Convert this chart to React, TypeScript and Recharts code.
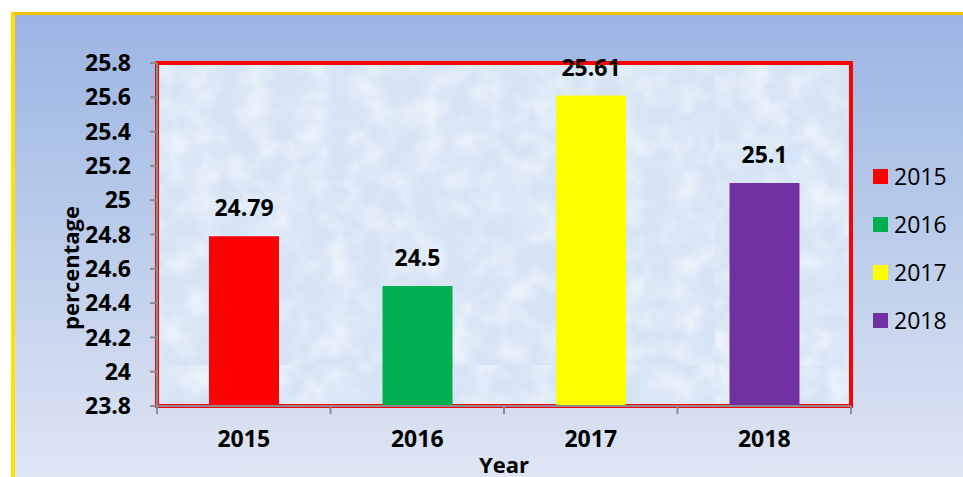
import { Bar, BarChart, CartesianGrid, Cell, Label, LabelList, ReferenceArea, XAxis, YAxis } from "recharts";

const years = ["2015", "2016", "2017", "2018"];
const percentages = [24.79, 24.5, 25.61, 25.1];
const barColors = ["#ff0000", "#00b050", "#ffff00", "#7030a0"];
const yTicks = [23.8, 24, 24.2, 24.4, 24.6, 24.8, 25, 25.2, 25.4, 25.6, 25.8];

const data = years.map((year, i) => ({ year, value: percentages[i] }));

const FONT = "'Open Sans', 'DejaVu Sans', sans-serif";
const CHART_W = 948;
const MARGIN_RIGHT = 112;
const AXIS_W = 142;
const BAND = (CHART_W - MARGIN_RIGHT - AXIS_W) / years.length;

// category tick: label in the middle, tick marks on the category boundaries
function YearTick(props: any) {
  const { x, y, payload, index } = props;
  const top = y - 25;
  return (
    <g>
      <line x1={x - BAND / 2} x2={x - BAND / 2} y1={top} y2={top + 8} stroke="#8c8c8c" strokeWidth={2} />
      {index === years.length - 1 && (
        <line x1={x + BAND / 2} x2={x + BAND / 2} y1={top} y2={top + 8} stroke="#8c8c8c" strokeWidth={2} />
      )}
      <text x={x} y={y} dy="0.71em" textAnchor="middle" fill="#000" fontSize={23} fontWeight={700} fontFamily={FONT}>
        {payload.value}
      </text>
    </g>
  );
}

export default function App() {
  return (
    <div
      style={{
        position: "absolute",
        left: 11,
        top: 12,
        width: 952,
        height: 465,
        boxSizing: "border-box",
        borderTop: "3px solid #ffc000",
        borderLeft: "4px solid #ffe100",
        background: "linear-gradient(to bottom, #9bb4e2 0%, #b9cbea 45%, #dfe5f3 100%)",
        fontFamily: FONT,
        overflow: "hidden",
      }}
    >
      <BarChart
        width={CHART_W}
        height={462}
        data={data}
        margin={{ top: 48, right: MARGIN_RIGHT, bottom: 0, left: 0 }}
        style={{ fontFamily: FONT }}
      >
        <defs>
          <filter id="mottle" x="0" y="0" width="100%" height="100%">
            <feTurbulence type="fractalNoise" baseFrequency="0.035" numOctaves="3" seed="4" />
            <feColorMatrix
              type="matrix"
              values="0 0 0 0 1  0 0 0 0 1  0 0 0 0 1  0 0 0 -2.2 1.35"
            />
          </filter>
          <pattern id="plotBg" patternUnits="userSpaceOnUse" x="0" y="0" width="700" height="350">
            <rect width="700" height="350" fill="#d6e4f5" />
            <rect width="700" height="350" fill="#ffffff" filter="url(#mottle)" opacity="0.55" />
          </pattern>
        </defs>
        <CartesianGrid horizontal={false} vertical={false} fill="url(#plotBg)" />
        <XAxis
          dataKey="year"
          height={71}
          tickSize={0}
          tickMargin={25}
          axisLine={{ stroke: "#8c8c8c", strokeWidth: 2 }}
          tickLine={false}
          tick={<YearTick />}
        >
          <Label value="Year" position="insideBottom" offset={4} fill="#000" fontSize={22} fontWeight={700} />
        </XAxis>
        <YAxis
          width={AXIS_W}
          domain={[23.8, 25.8]}
          ticks={yTicks}
          allowDataOverflow
          tickSize={7}
          tickMargin={19}
          axisLine={{ stroke: "#8c8c8c", strokeWidth: 2 }}
          tickLine={{ stroke: "#8c8c8c", strokeWidth: 2 }}
          tick={{ fill: "#000", fontSize: 23, fontWeight: 700 }}
        >
          <Label
            content={() => (
              <text
                x={55}
                y={253}
                transform="rotate(-90 55 253)"
                textAnchor="middle"
                dominantBaseline="central"
                fill="#000"
                fontSize={22}
                fontWeight={700}
                fontFamily={FONT}
              >
                percentage
              </text>
            )}
          />
        </YAxis>
        <Bar dataKey="value" barSize={70} isAnimationActive={false}>
          {data.map((d, i) => (
            <Cell key={d.year} fill={barColors[i]} />
          ))}
          <LabelList dataKey="value" position="top" offset={20} fill="#000" fontSize={23} fontWeight={700} />
        </Bar>
        <ReferenceArea
          x1={years[0]}
          x2={years[years.length - 1]}
          y1={23.8}
          y2={25.8}
          ifOverflow="visible"
          fill="none"
          fillOpacity={0}
          stroke="#ff0000"
          strokeWidth={4}
          strokeOpacity={1}
        />
      </BarChart>
      <div style={{ position: "absolute", left: 858, top: 137.5 }}>
        {years.map((year, i) => (
          <div key={year} style={{ display: "flex", alignItems: "center", height: 48 }}>
            <div style={{ width: 15, height: 15, background: barColors[i], marginRight: 6 }} />
            <span style={{ fontSize: 23, color: "#000", lineHeight: "23px" }}>{year}</span>
          </div>
        ))}
      </div>
    </div>
  );
}
